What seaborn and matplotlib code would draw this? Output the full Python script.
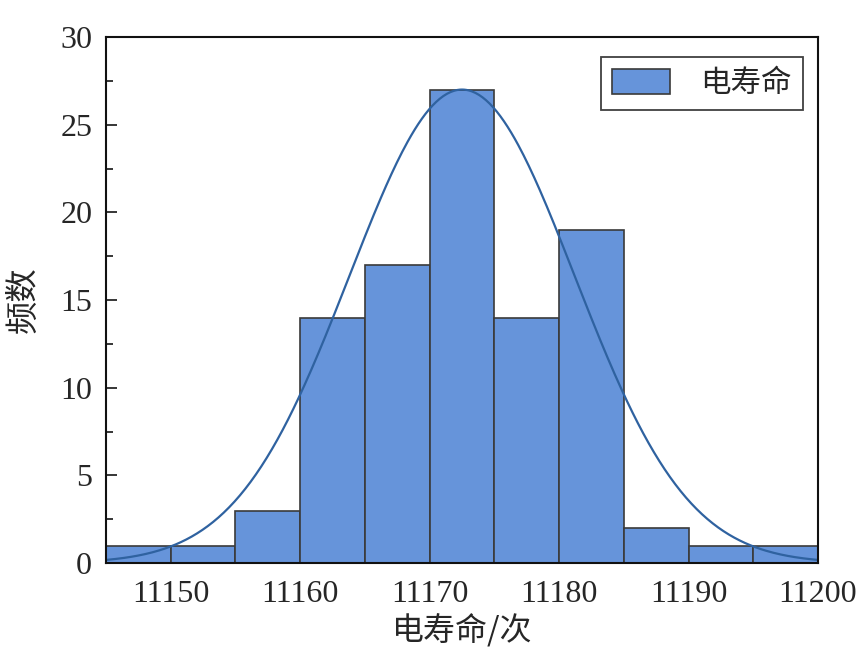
import numpy as np
import seaborn as sns
import matplotlib.pyplot as plt
from matplotlib.ticker import MultipleLocator

# histogram of electrical life (bin width 5)
bin_edges = [11145, 11150, 11155, 11160, 11165, 11170, 11175, 11180, 11185, 11190, 11195, 11200]
counts = [1, 1, 3, 14, 17, 27, 14, 19, 2, 1, 1]

# fitted normal curve parameters
fit_mean = 11172.5
fit_sigma = 8.7
fit_peak = 27.0

x_ticks = [11150, 11160, 11170, 11180, 11190, 11200]
y_ticks = [0, 5, 10, 15, 20, 25, 30]

bar_color = "#6694DA"
edge_color = "#3a3a3a"
curve_color = "#2F62A0"

sns.set_style("ticks")
plt.rcParams["font.family"] = ["Liberation Serif", "Noto Sans CJK SC"]
cjk = ["Noto Sans CJK SC", "Liberation Serif"]

centers = [(a + b) / 2 for a, b in zip(bin_edges[:-1], bin_edges[1:])]

fig = plt.figure(figsize=(8.62, 6.72), dpi=100)
ax = fig.add_axes([0.123, 0.162, 0.826, 0.783])

sns.histplot(x=centers, weights=counts, bins=bin_edges,
             color=bar_color, edgecolor=edge_color, linewidth=1.2,
             alpha=1.0, label="电寿命", ax=ax)

xs = np.linspace(bin_edges[0], bin_edges[-1], 400)
ys = fit_peak * np.exp(-(xs - fit_mean) ** 2 / (2 * fit_sigma ** 2))
sns.lineplot(x=xs, y=ys, color=curve_color, linewidth=1.6, ax=ax)

ax.set_xlim(bin_edges[0], bin_edges[-1])
ax.set_ylim(0, 30)
ax.set_xticks(x_ticks)
ax.set_yticks(y_ticks)
ax.yaxis.set_minor_locator(MultipleLocator(2.5))
ax.tick_params(axis="y", which="major", direction="in", length=8, width=1.3,
               labelsize=23, pad=10)
ax.tick_params(axis="y", which="minor", direction="in", length=5, width=1.3)
ax.tick_params(axis="x", length=0, labelsize=23, pad=12)

for side in ["top", "right", "left", "bottom"]:
    ax.spines[side].set_visible(True)
    ax.spines[side].set_linewidth(1.5)
    ax.spines[side].set_color("#111111")

ax.set_xlabel("电寿命/次", fontsize=23, family=cjk, labelpad=4)
ax.set_ylabel("频数", fontsize=24, family=cjk, labelpad=14)

leg = ax.legend(loc="upper right", prop={"family": cjk, "size": 22},
                frameon=True, fancybox=False, edgecolor="#111111",
                handlelength=1.9, handleheight=0.9, handletextpad=1.0,
                borderpad=0.35, bbox_to_anchor=(1.0, 0.99))
leg.get_frame().set_linewidth(1.3)

fig.savefig("out.png", dpi=100)
